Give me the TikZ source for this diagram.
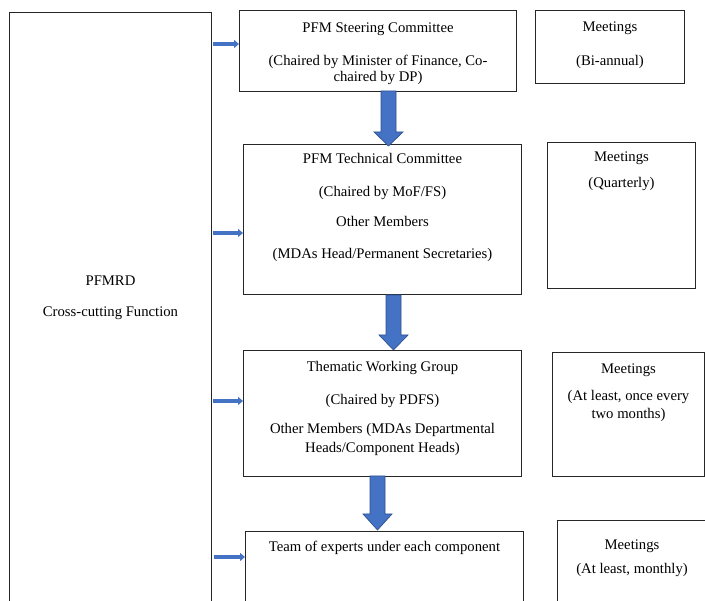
\documentclass[tikz,border=0pt]{standalone}
\usepackage{fontspec}
\setmainfont{Liberation Serif}
\usetikzlibrary{arrows.meta}
\definecolor{arrowblue}{HTML}{4472C4}
\definecolor{arrowedge}{HTML}{2F528F}
\begin{document}
\begin{tikzpicture}[x=1pt,y=-1pt,
  box/.style={draw=black!85, line width=1pt, fill=white, inner sep=0pt, anchor=north west},
  txt/.style={font=\fontsize{14.7}{17}\selectfont, inner sep=0pt, anchor=base},
  sarrow/.style={draw=arrowblue, line width=3.2pt, -{Triangle[width=8pt,length=5pt]}},
  barrow/.style={fill=arrowblue, draw=arrowedge, line width=0.7pt}]
\useasboundingbox (0,0) rectangle (705,601);
\clip (0,0) rectangle (705,601);
\newcommand\blockarrow[4]{%
  \filldraw[barrow] (#1-7.5,#2) -- (#1+7.5,#2) -- (#1+7.5,#3) -- (#1+14.5,#3)
    -- (#1,#4) -- (#1-14.5,#3) -- (#1-7.5,#3) -- cycle;}
% boxes
\node[box, minimum width=202, minimum height=628] (left) at (9,12) {};
\node[box, minimum width=277, minimum height=81]  (b1) at (239,10) {};
\node[box, minimum width=149, minimum height=73]  (m1) at (535,10) {};
\node[box, minimum width=278, minimum height=150] (b2) at (243,144) {};
\node[box, minimum width=148, minimum height=146] (m2) at (547,142) {};
\node[box, minimum width=278, minimum height=126] (b3) at (243,350) {};
\node[box, minimum width=152, minimum height=124] (m3) at (552,352) {};
\node[box, minimum width=278, minimum height=109] (b4) at (245,531) {};
\node[box, minimum width=163, minimum height=120] (m4) at (557,520) {};
% block arrows
\blockarrow{388.5}{91}{132}{146}
\blockarrow{393.5}{295}{335}{350}
\blockarrow{377.5}{476}{514}{530}
% small arrows
\coordinate (s1) at (213,44);
\coordinate (s2) at (213,233);
\coordinate (s3) at (213,401);
\coordinate (s4) at (214,557);
\draw[sarrow] (s1) -- (s1 -| b1.west);
\draw[sarrow] (s2) -- (s2 -| b2.west);
\draw[sarrow] (s3) -- (s3 -| b3.west);
\draw[sarrow] (s4) -- (s4 -| b4.west);
% texts
\node[txt] (l1) at (left.north |- 0,286) {PFMRD};
\node[txt] (l2) at (left.north |- 0,317) {Cross-cutting Function};
\node[txt] (t1a) at (b1.north |- 0,33) {PFM Steering Committee};
\node[txt] (t1b) at (b1.north |- 0,66) {(Chaired by Minister of Finance, Co-};
\node[txt] (t1c) at (b1.north |- 0,82) {chaired by DP)};
\node[txt] (n1a) at (m1.north |- 0,32) {Meetings};
\node[txt] (n1b) at (m1.north |- 0,66) {(Bi-annual)};
\node[txt] (t2a) at (b2.north |- 0,164) {PFM Technical Committee};
\node[txt] (t2b) at (b2.north |- 0,197) {(Chaired by MoF/FS)};
\node[txt] (t2c) at (b2.north |- 0,227) {Other Members};
\node[txt] (t2d) at (b2.north |- 0,259) {(MDAs Head/Permanent Secretaries)};
\node[txt] (n2a) at (m2.north |- 0,162) {Meetings};
\node[txt] (n2b) at (m2.north |- 0,188) {(Quarterly)};
\node[txt] (t3a) at (b3.north |- 0,372) {Thematic Working Group};
\node[txt] (t3b) at (b3.north |- 0,405) {(Chaired by PDFS)};
\node[txt] (t3c) at (b3.north |- 0,434) {Other Members (MDAs Departmental};
\node[txt] (t3d) at (b3.north |- 0,453) {Heads/Component Heads)};
\node[txt] (n3a) at (m3.north |- 0,374) {Meetings};
\node[txt] (n3b) at (m3.north |- 0,401) {(At least, once every};
\node[txt] (n3c) at (m3.north |- 0,419) {two months)};
\node[txt] (t4a) at (b4.north |- 0,552) {Team of experts under each component};
\node[txt] (n4a) at (632,550) {Meetings};
\node[txt] (n4b) at (632,574) {(At least, monthly)};
\end{tikzpicture}
\end{document}
